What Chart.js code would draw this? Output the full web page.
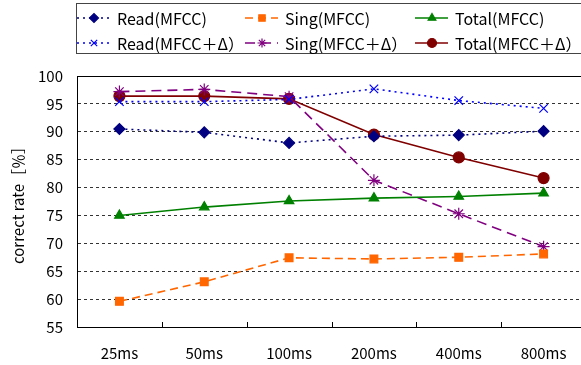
<!DOCTYPE html>
<html>
<head>
<meta charset="utf-8">
<script src="https://cdn.jsdelivr.net/npm/chart.js@4/dist/chart.umd.min.js"></script>
<style>
html,body{margin:0;padding:0;background:#fff;overflow:hidden;}
#wrap{position:absolute;left:0;top:0;width:600px;height:365px;}
</style>
</head>
<body>
<div id="wrap"><canvas id="c" width="600" height="365"></canvas></div>
<script>
const categories = ['25ms', '50ms', '100ms', '200ms', '400ms', '800ms'];
const readMFCC = [90.5, 89.9, 88.0, 89.2, 89.4, 90.1];
const singMFCC = [59.6, 63.1, 67.4, 67.2, 67.5, 68.1];
const totalMFCC = [75.0, 76.5, 77.6, 78.1, 78.4, 79.0];
const readMFCCD = [95.4, 95.4, 95.8, 97.7, 95.6, 94.2];
const singMFCCD = [97.2, 97.6, 96.3, 81.3, 75.3, 69.4];
const totalMFCCD = [96.4, 96.4, 95.9, 89.5, 85.4, 81.7];
const seriesNames = ['Read(MFCC)', 'Sing(MFCC)', 'Total(MFCC)', 'Read(MFCC＋Δ）', 'Sing(MFCC＋Δ）', 'Total(MFCC＋Δ）'];
const yTicks = [55, 60, 65, 70, 75, 80, 85, 90, 95, 100];

const FONT = '"Noto Sans CJK JP", "Liberation Sans", sans-serif';

function ds(label, data, color, dash, style, radius, fill) {
  return {
    label, data,
    borderColor: color,
    backgroundColor: fill ? color : 'rgba(0,0,0,0)',
    pointBackgroundColor: color,
    pointBorderColor: color,
    borderWidth: 1.6,
    borderDash: dash,
    pointStyle: style,
    pointRadius: radius,
    pointBorderWidth: 1.2,
    tension: 0,
    fill: false
  };
}

const datasets = [
  ds(seriesNames[0], readMFCC, '#000080', [2, 4], 'rectRot', 5.5, true),
  ds(seriesNames[1], singMFCC, '#FF6600', [8, 5], 'rect', 5.5, true),
  ds(seriesNames[2], totalMFCC, '#008000', [], 'triangle', 5.5, true),
  ds(seriesNames[3], readMFCCD, '#0000FF', [2, 4], 'crossRot', 6, false),
  ds(seriesNames[4], singMFCCD, '#800080', [10, 6], 'star', 6, false),
  ds(seriesNames[5], totalMFCCD, '#800000', [], 'circle', 5.5, true)
];

const legendPlugin = {
  id: 'customLegend',
  afterDraw(chart) {
    const ctx = chart.ctx;
    ctx.save();
    ctx.strokeStyle = '#444';
    ctx.lineWidth = 1;
    ctx.strokeRect(76.5, 3.5, 540, 50);
    const cols = [80, 248, 418];
    const rows = [18, 43];
    chart.data.datasets.forEach((d, k) => {
      const x = cols[k % 3], y = rows[Math.floor(k / 3)];
      ctx.save();
      ctx.strokeStyle = d.borderColor;
      ctx.lineWidth = d.borderWidth;
      ctx.setLineDash(d.borderDash || []);
      ctx.beginPath();
      ctx.moveTo(x - 3, y);
      ctx.lineTo(x + 30, y);
      ctx.stroke();
      ctx.restore();
      ctx.save();
      ctx.fillStyle = d.pointBackgroundColor;
      ctx.strokeStyle = d.pointBorderColor;
      ctx.lineWidth = d.pointBorderWidth;
      if (Chart.helpers && Chart.helpers.drawPoint) {
        Chart.helpers.drawPoint(ctx, {pointStyle: d.pointStyle, rotation: 0, borderWidth: d.pointBorderWidth, radius: 4.5}, x + 14, y);
      }
      ctx.restore();
      ctx.fillStyle = '#000';
      ctx.font = '16px ' + FONT;
      ctx.textBaseline = 'middle';
      ctx.textAlign = 'left';
      ctx.fillText(d.label, x + 37, y + 1);
    });
    const a = chart.chartArea;
    ctx.strokeStyle = '#000';
    ctx.lineWidth = 1;
    ctx.beginPath();
    ctx.moveTo(a.left + 0.5, a.top + 0.5);
    ctx.lineTo(a.right + 0.5, a.top + 0.5);
    ctx.lineTo(a.right + 0.5, a.bottom + 0.5);
    ctx.lineTo(a.left + 0.5, a.bottom + 0.5);
    ctx.closePath();
    ctx.stroke();
    const xs = chart.scales.x;
    ctx.beginPath();
    for (let i = 1; i < categories.length; i++) {
      const px = Math.round((xs.getPixelForValue(i - 1) + xs.getPixelForValue(i)) / 2) + 0.5;
      ctx.moveTo(px, a.bottom);
      ctx.lineTo(px, a.bottom - 5);
    }
    ctx.stroke();
    ctx.restore();
  }
};

new Chart(document.getElementById('c'), {
  type: 'line',
  data: { labels: categories, datasets },
  plugins: [legendPlugin],
  options: {
    responsive: false,
    animation: false,
    events: [],
    layout: { padding: { top: 76, right: 14, left: 0, bottom: 0 } },
    plugins: { legend: { display: false }, tooltip: { enabled: false } },
    scales: {
      x: {
        offset: true,
        grid: { display: false, drawTicks: false },
        border: { display: true, color: '#000', width: 1 },
        ticks: { color: '#000', font: { family: FONT, size: 15 }, padding: 17, maxRotation: 0 },
        afterFit(s) { s.height = 38; }
      },
      y: {
        min: 55, max: 100,
        afterBuildTicks(s) { s.ticks = yTicks.map(v => ({ value: v })); },
        grid: { color: '#333', lineWidth: 1, drawTicks: false },
        border: { display: true, color: '#000', width: 1, dash: [3, 3] },
        ticks: { color: '#000', font: { family: FONT, size: 15 }, padding: 14 },
        title: { display: true, text: 'correct rate［％］', color: '#000', font: { family: FONT, size: 15 }, padding: { top: 9, bottom: 0 } },
        afterFit(s) { s.width = 77; }
      }
    }
  }
});
</script>
</body>
</html>
